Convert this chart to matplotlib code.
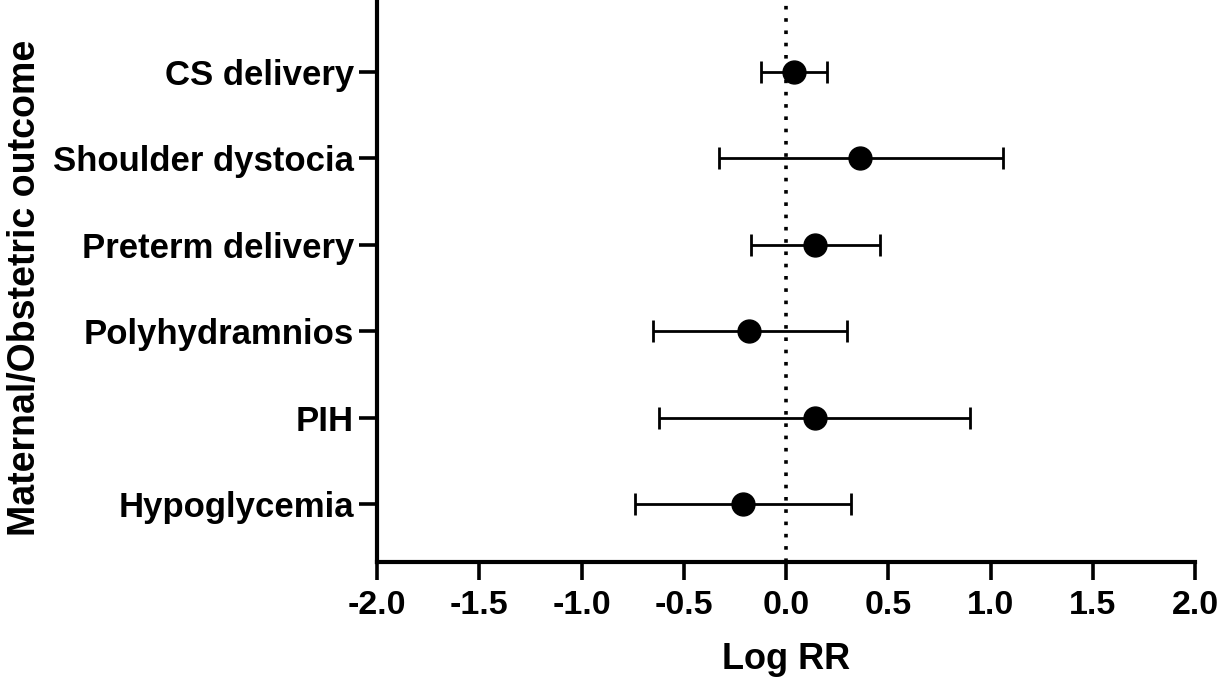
import numpy as np
import matplotlib
matplotlib.use("Agg")
import matplotlib.pyplot as plt

plt.rcParams['font.family'] = ['Liberation Sans', 'DejaVu Sans']
plt.rcParams['font.weight'] = 'bold'

# forest plot values
outcomes = ["CS delivery", "Shoulder dystocia", "Preterm delivery",
            "Polyhydramnios", "PIH", "Hypoglycemia"]
log_rr = [0.04, 0.36, 0.14, -0.18, 0.14, -0.21]
ci_low = [-0.12, -0.33, -0.17, -0.65, -0.62, -0.74]
ci_high = [0.20, 1.06, 0.46, 0.30, 0.90, 0.32]
xticks = [-2.0, -1.5, -1.0, -0.5, 0.0, 0.5, 1.0, 1.5, 2.0]

ypos = np.arange(len(outcomes), 0, -1)
est = np.array(log_rr)
err = np.vstack([est - np.array(ci_low), np.array(ci_high) - est])

fig = plt.figure(figsize=(12.22, 6.79), dpi=100)
ax = fig.add_axes([377 / 1222, 117 / 679, (1195 - 377) / 1222, 562 / 679])

ax.axvline(0, color='black', lw=2.6, ls=(0, (1, 2.4)), zorder=1)
ax.errorbar(est, ypos, xerr=err, fmt='o', color='black', ms=16.5,
            elinewidth=2.0, capsize=8, capthick=2.0, zorder=3)

ax.set_xlim(-2, 2)
ax.set_ylim(0.33, 6.83)
ax.set_xticks(xticks)
ax.set_xticklabels([f"{t:.1f}" for t in xticks])
ax.set_yticks(ypos)
ax.set_yticklabels(outcomes)

for s in ['top', 'right']:
    ax.spines[s].set_visible(False)
for s in ['left', 'bottom']:
    ax.spines[s].set_linewidth(3)

ax.tick_params(axis='x', length=13, width=2.6, labelsize=24.5, pad=7)
ax.tick_params(axis='y', length=13, width=2.6, labelsize=25, pad=3.5)
for lab in ax.get_xticklabels() + ax.get_yticklabels():
    lab.set_fontweight('bold')

ax.set_xlabel("Log RR", fontsize=26, fontweight='bold', labelpad=15)
ax.set_ylabel("Maternal/Obstetric outcome", fontsize=27, fontweight='bold',
              va='center')
ax.yaxis.set_label_coords((25 - 377) / 818, (562 - 288) / 562)

fig.savefig("out.png", dpi=100)
